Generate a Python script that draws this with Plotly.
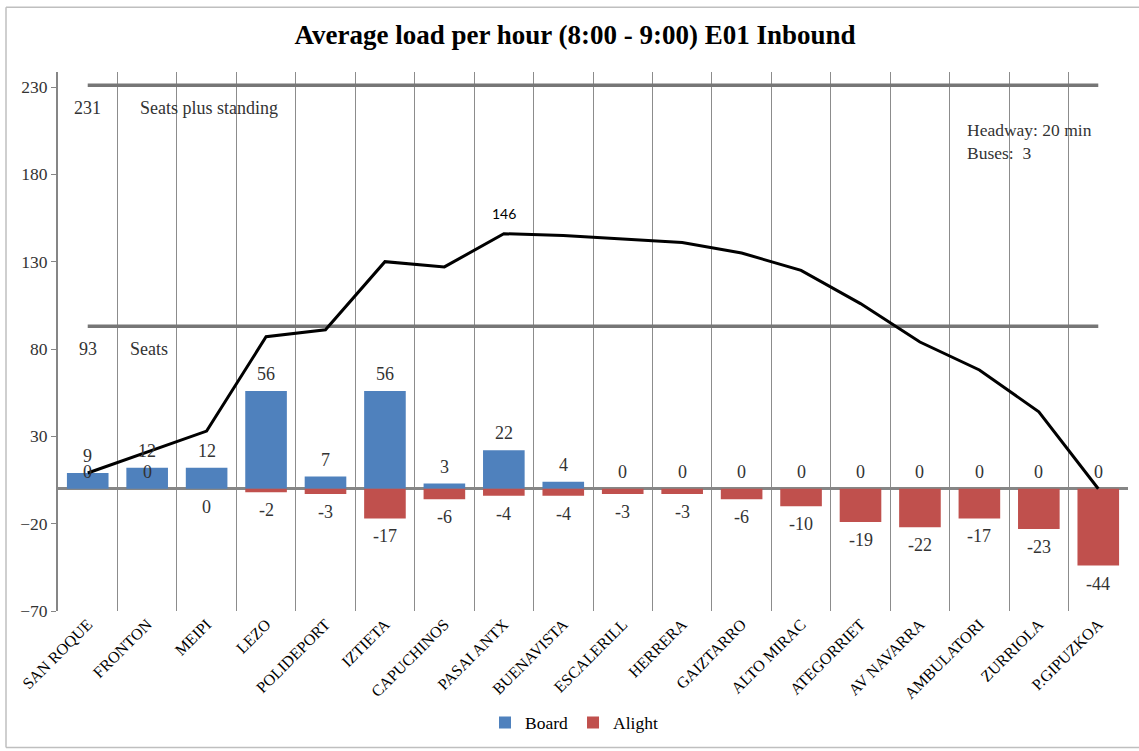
import plotly.graph_objects as go

stops = ["SAN ROQUE", "FRONTON", "MEIPI", "LEZO", "POLIDEPORT", "IZTIETA", "CAPUCHINOS",
         "PASAI ANTX", "BUENAVISTA", "ESCALERILL", "HERRERA", "GAIZTARRO", "ALTO MIRAC",
         "ATEGORRIET", "AV NAVARRA", "AMBULATORI", "ZURRIOLA", "P.GIPUZKOA"]
board = [9, 12, 12, 56, 7, 56, 3, 22, 4, 0, 0, 0, 0, 0, 0, 0, 0, 0]
alight = [0, 0, 0, -2, -3, -17, -6, -4, -4, -3, -3, -6, -10, -19, -22, -17, -23, -44]
load = [9, 21, 33, 87, 91, 130, 127, 146, 145, 143, 141, 135, 125, 106, 84, 68, 44, 0]
seats_standing = 231
seats = 93
peak_label_stop = "PASAI ANTX"
peak_label_value = 146
headway_min = 20
buses = 3
y_ticks = [-70, -20, 30, 80, 130, 180, 230]

SERIF = "Liberation Serif"
TXT = "#333333"

fig = go.Figure()
fig.add_trace(go.Bar(x=stops, y=board, name="Board", width=0.7,
                     marker=dict(color="#4F81BD", line=dict(width=0))))
fig.add_trace(go.Bar(x=stops, y=alight, name="Alight", width=0.7,
                     marker=dict(color="#C0504D", line=dict(width=0))))
fig.add_trace(go.Scatter(x=stops, y=[seats_standing] * len(stops), mode="lines",
                         line=dict(color="#767676", width=3.5), showlegend=False, hoverinfo="skip"))
fig.add_trace(go.Scatter(x=stops, y=[seats] * len(stops), mode="lines",
                         line=dict(color="#767676", width=3.5), showlegend=False, hoverinfo="skip"))
fig.add_trace(go.Scatter(x=stops, y=load, mode="lines",
                         line=dict(color="black", width=3), showlegend=False))

LBL = dict(family=SERIF, size=18, color=TXT)
annotations = []
for i, s in enumerate(stops):
    annotations.append(dict(x=s, y=board[i], text=str(board[i]), showarrow=False,
                            yshift=17, font=LBL))
    above = (i < 2)
    annotations.append(dict(x=s, y=alight[i], text=str(alight[i]), showarrow=False,
                            yshift=17 if above else -18, font=LBL))

annotations.append(dict(x=peak_label_stop, y=peak_label_value, text=str(peak_label_value),
                        showarrow=False, yshift=20, font=dict(family="Lato", size=14, color="black")))
annotations.append(dict(x=stops[0], y=seats_standing, text=str(seats_standing), showarrow=False,
                        yshift=-23, font=LBL))
annotations.append(dict(x=(138 - 58) / 1070, xref="paper", y=seats_standing, xanchor="left",
                        text="Seats plus standing", showarrow=False, yshift=-23, font=LBL))
annotations.append(dict(x=stops[0], y=seats, text=str(seats), showarrow=False,
                        yshift=-23, font=LBL))
annotations.append(dict(x=(128 - 58) / 1070, xref="paper", y=seats, xanchor="left",
                        text="Seats", showarrow=False, yshift=-23, font=LBL))
annotations.append(dict(x=(965 - 58) / 1070, xref="paper", y=(613 - 142) / 541, yref="paper",
                        xanchor="left", yanchor="middle", align="left",
                        text=f"Headway: {headway_min} min<br>Buses:  {buses}", showarrow=False,
                        font=dict(family=SERIF, size=17.5, color=TXT)))

X0 = (6 - 58) / 1070
X1 = (1139 - 58) / 1070
Y0 = (613 - 750) / 541
Y1 = (613 - 7) / 541
border = dict(color="#bfbfbf", width=1.5)

fig.update_layout(
    width=1139, height=751,
    margin=dict(l=58, r=11, t=72, b=138),
    paper_bgcolor="white", plot_bgcolor="white",
    barmode="relative",
    title=dict(text="<b>Average load per hour (8:00 - 9:00) E01 Inbound</b>",
               x=575 / 1139, xanchor="center", y=1 - 35 / 751, yanchor="middle",
               font=dict(family=SERIF, size=27, color="black")),
    legend=dict(orientation="h", x=(574 - 58) / 1070, xanchor="center",
                y=(613 - 725) / 541, yanchor="middle", itemwidth=30,
                font=dict(family=SERIF, size=17.5, color="black"), traceorder="normal"),
    annotations=annotations,
    shapes=[
        dict(type="line", xref="paper", yref="paper", x0=X0, x1=X1, y0=Y1, y1=Y1, line=border, layer="below"),
        dict(type="line", xref="paper", yref="paper", x0=X0, x1=X1, y0=Y0, y1=Y0, line=border, layer="below"),
        dict(type="line", xref="paper", yref="paper", x0=X0, x1=X0, y0=Y0, y1=Y1, line=border, layer="below"),
    ],
    font=dict(family=SERIF, color=TXT),
)
fig.update_xaxes(type="category", tickson="boundaries", showgrid=True, gridcolor="#8c8c8c",
                 gridwidth=1, ticks="", tickangle=-45, showline=False, zeroline=False,
                 automargin=False,
                 tickfont=dict(family=SERIF, size=16, color="black"))
fig.update_yaxes(range=[-70, 238.6], tickvals=y_ticks, showgrid=False, showline=True,
                 linecolor="#868686", linewidth=2, ticks="outside", ticklen=5,
                 tickcolor="#868686", zeroline=True, zerolinecolor="#868686", zerolinewidth=2.5,
                 automargin=False,
                 tickfont=dict(family=SERIF, size=17.5, color=TXT))

fig.write_html("out.html", config={"displayModeBar": False},
               post_script="document.body.style.margin='0';")
